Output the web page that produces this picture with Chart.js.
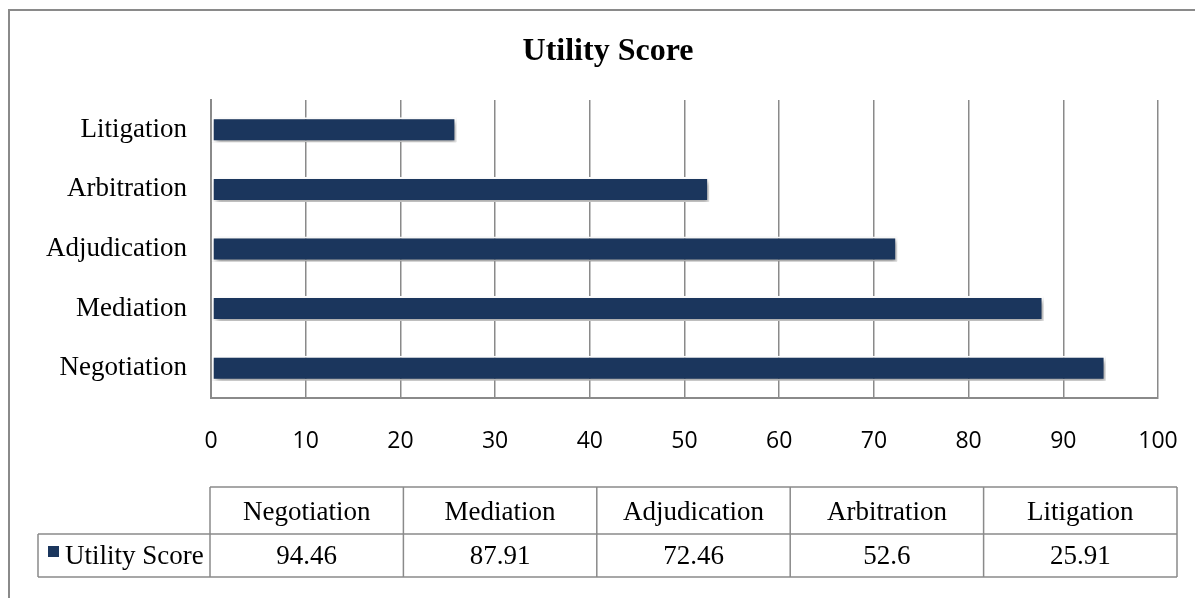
<!DOCTYPE html>
<html>
<head>
<meta charset="utf-8">
<script src="https://cdn.jsdelivr.net/npm/chart.js@4/dist/chart.umd.min.js"></script>
<style>
  html, body { margin: 0; padding: 0; background: #ffffff; }
  #wrap { position: relative; width: 1195px; height: 598px; }
</style>
</head>
<body>
<div id="wrap"><canvas id="c" width="1195" height="598"></canvas></div>
<script>
const categories = ['Negotiation', 'Mediation', 'Adjudication', 'Arbitration', 'Litigation'];
const utilityScore = [94.46, 87.91, 72.46, 52.6, 25.91];
const valueLabels = ['94.46', '87.91', '72.46', '52.6', '25.91'];
const seriesName = 'Utility Score';
const chartTitle = 'Utility Score';
const xTicks = [0, 10, 20, 30, 40, 50, 60, 70, 80, 90, 100];

const BAR = '#1b365d';
const GRID = '#8a8a8a';
const SERIF = '"Liberation Serif", "Times New Roman", serif';
const SANS = '"Open Sans", "Noto Sans", sans-serif';

const framePlugin = {
  id: 'frame',
  afterDraw(chart) {
    const ctx = chart.ctx;
    ctx.save();
    ctx.strokeStyle = GRID;
    ctx.lineWidth = 2;
    ctx.beginPath();
    ctx.moveTo(9, 700);
    ctx.lineTo(9, 10);
    ctx.lineTo(1300, 10);
    ctx.stroke();
    // title
    ctx.fillStyle = '#000';
    ctx.font = 'bold 32px ' + SERIF;
    ctx.textAlign = 'center';
    ctx.textBaseline = 'alphabetic';
    ctx.fillText(chartTitle, 608, 60);
    ctx.restore();
  }
};

const shadowPlugin = {
  id: 'barShadow',
  beforeDatasetDraw(chart) {
    const ctx = chart.ctx;
    ctx.save();
    ctx.shadowColor = 'rgba(0,0,0,0.4)';
    ctx.shadowBlur = 5;
    ctx.shadowOffsetX = 2;
    ctx.shadowOffsetY = 3;
  },
  afterDatasetDraw(chart) {
    chart.ctx.restore();
  }
};

const tablePlugin = {
  id: 'dataTable',
  afterDraw(chart) {
    const ctx = chart.ctx;
    const a = chart.chartArea;
    const left = a.left - 1;
    const colW = (a.right - a.left + 20) / categories.length;
    const right = left + colW * categories.length;
    const top = 487, mid = 534, bot = 577, legLeft = 38;
    ctx.save();
    ctx.strokeStyle = GRID;
    ctx.lineWidth = 1.5;
    ctx.beginPath();
    ctx.moveTo(left, top); ctx.lineTo(right, top);
    ctx.moveTo(legLeft, mid); ctx.lineTo(right, mid);
    ctx.moveTo(legLeft, bot); ctx.lineTo(right, bot);
    ctx.moveTo(legLeft, mid); ctx.lineTo(legLeft, bot);
    for (let i = 0; i <= categories.length; i++) {
      const x = left + colW * i;
      ctx.moveTo(x, top); ctx.lineTo(x, bot);
    }
    ctx.stroke();

    ctx.fillStyle = '#000';
    ctx.font = '27px ' + SERIF;
    ctx.textAlign = 'center';
    ctx.textBaseline = 'alphabetic';
    categories.forEach((c, i) => {
      const cx = left + colW * (i + 0.5);
      ctx.fillText(c, cx, 520);
      ctx.fillText(valueLabels[i], cx, 564);
    });
    ctx.fillStyle = BAR;
    ctx.fillRect(48, 546, 11, 11);
    ctx.fillStyle = '#000';
    ctx.textAlign = 'left';
    ctx.fillText(seriesName, 65, 564);
    ctx.restore();
  }
};

new Chart(document.getElementById('c'), {
  type: 'bar',
  data: {
    labels: categories,
    datasets: [{
      label: seriesName,
      data: utilityScore,
      backgroundColor: BAR,
      borderColor: '#ffffff',
      borderWidth: 2,
      borderSkipped: false,
      barPercentage: 1,
      categoryPercentage: 0.42
    }]
  },
  options: {
    indexAxis: 'y',
    responsive: false,
    animation: false,
    devicePixelRatio: 1,
    layout: { padding: { left: 10, right: 37, top: 100, bottom: 140 } },
    plugins: {
      legend: { display: false },
      tooltip: { enabled: false },
      title: { display: false }
    },
    scales: {
      x: {
        min: 0,
        max: 100,
        afterBuildTicks(s) { s.ticks = xTicks.map(v => ({ value: v })); },
        afterFit(s) { s.height = 60; s.paddingLeft = 0; s.paddingRight = 0; },
        grid: { color: GRID, lineWidth: 1.5, drawTicks: false },
        border: { display: true, color: GRID, width: 2 },
        ticks: {
          color: '#000',
          padding: 30,
          font: { family: SANS, size: 23 }
        }
      },
      y: {
        reverse: true,
        afterFit(s) { s.width = 201; s.paddingTop = 0; s.paddingBottom = 0; },
        grid: { display: false, drawTicks: false },
        border: { display: true, color: GRID, width: 2 },
        ticks: {
          color: '#000',
          padding: 24,
          font: { family: SERIF, size: 27 }
        }
      }
    }
  },
  plugins: [shadowPlugin, tablePlugin, framePlugin]
});
</script>
</body>
</html>
